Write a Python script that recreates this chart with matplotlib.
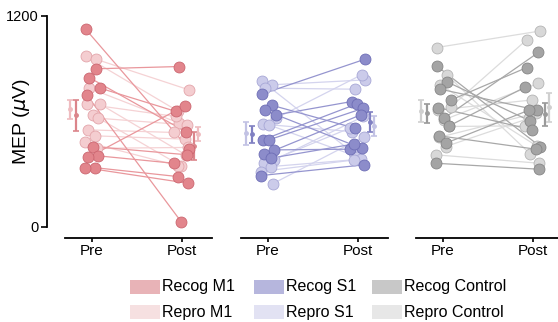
import numpy as np
import matplotlib.pyplot as plt
from matplotlib.patches import Rectangle

plt.rcParams['font.family'] = ['Liberation Sans', 'DejaVu Sans']

# MEP values (uV), one entry per subject, Pre and Post
recog_m1_pre = [1122, 897, 847, 787, 749, 455, 402, 394, 335, 335]
recog_m1_post = [440, 910, 540, 655, 28, 408, 360, 686, 284, 246]
repro_m1_pre = [967, 952, 787, 696, 696, 635, 616, 550, 516, 483, 445]
repro_m1_post = [658, 777, 588, 408, 626, 345, 578, 535, 497, 345, 450]

recog_s1_pre = [753, 690, 660, 635, 493, 493, 436, 410, 389, 290]
recog_s1_post = [952, 559, 445, 711, 698, 673, 440, 635, 470, 351]
repro_s1_pre = [828, 806, 787, 616, 582, 578, 379, 360, 341, 313, 243]
repro_s1_post = [417, 834, 781, 863, 540, 398, 626, 560, 383, 379, 512]

recog_ctl_pre = [913, 824, 781, 720, 677, 616, 573, 516, 474, 360]
recog_ctl_post = [455, 600, 663, 904, 550, 990, 792, 440, 663, 326]
repro_ctl_pre = [1018, 863, 806, 682, 663, 607, 569, 508, 455, 408]
repro_ctl_post = [1112, 413, 459, 1062, 720, 815, 573, 645, 616, 360]

conditions = ['Pre', 'Post']
legend_labels = ['Recog M1', 'Repro M1', 'Recog S1', 'Repro S1', 'Recog Control', 'Repro Control']

# styles: (marker face, marker edge, line, errorbar, legend patch)
styles = {
    'Recog M1': ('#e2858c', '#cc6670', '#e9979c', '#db858b', '#e8b3b7'),
    'Repro M1': ('#f4cdd0', '#e3a5aa', '#f5d2d4', '#efbcc0', '#f6e0e1'),
    'Recog S1': ('#8c8cca', '#6e6eb6', '#9595cf', '#8080c2', '#b6b6dd'),
    'Repro S1': ('#cbcbea', '#a7a7d6', '#d4d4ee', '#c2c2e4', '#e2e2f3'),
    'Recog Control': ('#a4a4a4', '#868686', '#a8a8a8', '#9a9a9a', '#c8c8c8'),
    'Repro Control': ('#d8d8d8', '#b4b4b4', '#dcdcdc', '#cfcfcf', '#e7e7e7'),
}

JITTER = [-0.07, 0.04, -0.03, 0.09, -0.06, 0.01, 0.07, -0.04, 0.03, -0.08, 0.05]

panels = [
    (('Recog M1', recog_m1_pre, recog_m1_post), ('Repro M1', repro_m1_pre, repro_m1_post)),
    (('Recog S1', recog_s1_pre, recog_s1_post), ('Repro S1', repro_s1_pre, repro_s1_post)),
    (('Recog Control', recog_ctl_pre, recog_ctl_post), ('Repro Control', repro_ctl_pre, repro_ctl_post)),
]

fig = plt.figure(figsize=(5.58, 3.22), dpi=100)
W, H = 558, 322
ax_bottom = (H - 238) / H
ax_top = (H - 12) / H
lefts = [47, 223, 398]
width_px = 162

for i, (left, groups) in enumerate(zip(lefts, panels)):
    ax = fig.add_axes([left / W, ax_bottom, width_px / W, ax_top - ax_bottom])
    ax.set_xlim(-0.5, 1.3)
    ax.set_ylim(-65, 1220)

    # Recog drawn after Repro in each panel
    for name, pre, post in groups[::-1]:
        face, edge, line, ebc, _ = styles[name]
        pre = np.array(pre, dtype=float)
        post = np.array(post, dtype=float)
        jit = np.array(JITTER[:len(pre)])
        x0 = 0 + jit
        x1 = 1 - jit[::-1]
        for a, b, ya, yb in zip(x0, x1, pre, post):
            ax.plot([a, b], [ya, yb], color=line, lw=0.9, zorder=1)
        ax.scatter(np.concatenate([x0, x1]), np.concatenate([pre, post]), s=62,
                   facecolor=face, edgecolor=edge, linewidth=0.6, zorder=3)

    for (name, pre, post), (xl, xr) in zip(groups, [(-0.18, 1.13), (-0.24, 1.18)]):
        ebc = styles[name][3]
        for xpos, vals in [(xl, pre), (xr, post)]:
            vals = np.array(vals, dtype=float)
            m = vals.mean()
            sem = vals.std(ddof=1) / np.sqrt(len(vals))
            ax.errorbar(xpos, m, yerr=sem, fmt='o', ms=2.5, color=ebc,
                        elinewidth=1.6, capsize=2.2, capthick=1.2, zorder=2)

    for s in ['top', 'right']:
        ax.spines[s].set_visible(False)
    ax.spines['bottom'].set_bounds(-0.3, 1.33)
    ax.spines['bottom'].set_linewidth(1.3)
    ax.set_xticks([0, 1])
    ax.set_xticklabels(conditions, fontsize=11)
    ax.tick_params(axis='x', length=3, width=1.2, pad=1)
    if i == 0:
        ax.spines['left'].set_bounds(0, 1200)
        ax.spines['left'].set_linewidth(1.3)
        ax.set_yticks([0, 1200])
        ax.set_yticklabels(['0', '1200'], fontsize=10.5)
        ax.tick_params(axis='y', length=4, width=1.2, pad=2)
        ax.set_ylabel(r'MEP ($\mu$V)', fontsize=14)
        ax.yaxis.set_label_coords(-0.095, 0.514)
    else:
        ax.spines['left'].set_visible(False)
        ax.set_yticks([])

# manual legend at the bottom
col_x = [130, 254, 372]
row_y = [287, 312]
for k, label in enumerate(legend_labels):
    c, r = k // 2, k % 2
    x, y = col_x[c], row_y[r]
    fig.add_artist(Rectangle((x / W, (H - y - 7) / H), 30 / W, 14 / H,
                             transform=fig.transFigure, facecolor=styles[label][4],
                             edgecolor='none'))
    fig.text((x + 32) / W, (H - y) / H, label, fontsize=11.5, va='center', ha='left')

fig.savefig('out.png', dpi=100)
